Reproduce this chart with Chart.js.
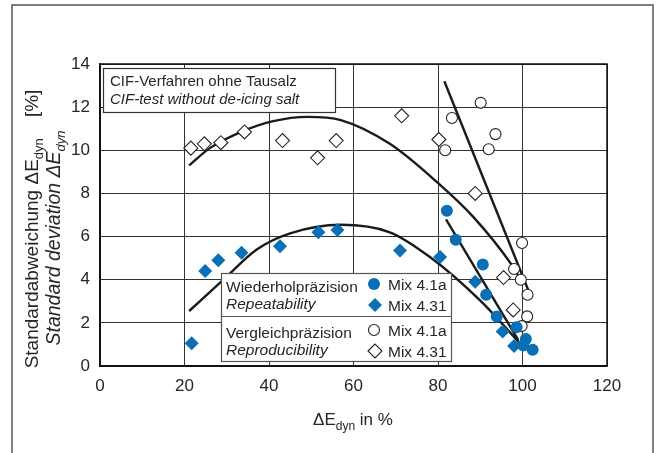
<!DOCTYPE html>
<html>
<head>
<meta charset="utf-8">
<script src="https://cdn.jsdelivr.net/npm/chart.js@4.4.1/dist/chart.umd.min.js"></script>
<style>
  html, body { margin: 0; padding: 0; background: #fff; }
  canvas { display: block; }
</style>
</head>
<body>
<canvas id="chart" width="658" height="453"></canvas>
<script>
// Wiederholpräzision / repeatability
const rep41aX = [82.1, 84.2, 90.6, 91.4, 93.9, 98.6, 100.8, 100.2, 102.4];
const rep41aY = [7.2, 5.85, 4.7, 3.3, 2.3, 1.8, 1.25, 0.95, 0.75];
const rep431X = [21.7, 24.9, 28.0, 33.5, 42.6, 51.7, 56.2, 71.0, 80.5, 88.8, 95.3, 98.0];
const rep431Y = [1.05, 4.4, 4.9, 5.25, 5.55, 6.2, 6.3, 5.35, 5.05, 3.9, 1.6, 0.93];

// Vergleichpräzision / reproducibility
const repro41aX = [81.7, 83.3, 90.1, 92.0, 93.6, 99.9, 98.0, 99.6, 101.2, 101.1, 99.8];
const repro41aY = [10.0, 11.5, 12.2, 10.05, 10.75, 5.7, 4.5, 4.0, 3.3, 2.3, 1.85];
const repro431X = [21.5, 24.7, 28.6, 34.2, 43.2, 51.5, 55.9, 71.4, 80.2, 88.8, 95.5, 97.8];
const repro431Y = [10.1, 10.3, 10.35, 10.85, 10.45, 9.65, 10.45, 11.6, 10.5, 8.0, 4.1, 2.6];

// trend curves
const fitRepro431X = [21.1, 26, 34, 41, 49, 57, 68.6, 79.9, 88.4, 97.4, 99.6];
const fitRepro431Y = [9.3, 10.1, 10.9, 11.35, 11.55, 11.4, 10.3, 8.5, 6.9, 4.7, 4.0];
const fitRepro41aX = [81.5, 101.4];
const fitRepro41aY = [13.2, 3.5];
const fitRep431X = [21.1, 29.2, 37.1, 45, 57, 68.6, 78.1, 89.9, 99.4];
const fitRep431Y = [2.55, 4.0, 5.4, 6.15, 6.55, 6.2, 5.05, 3.05, 1.05];
const fitRep41aX = [81.9, 99.0];
const fitRep41aY = [6.8, 1.2];

const xTicks = [0, 20, 40, 60, 80, 100, 120];
const yTicks = [0, 2, 4, 6, 8, 10, 12, 14];

const FONT = "'Liberation Sans', Arial, Helvetica, sans-serif";
const BLUE = '#0a6fb7';
const INK = '#262626';

function pts(xs, ys) {
  return xs.map((x, i) => ({ x: x, y: ys[i] }));
}

function fontOf(r, size) {
  return (r.it ? 'italic ' : '') + (r.sub ? Math.round(size * 0.68) : size) + 'px ' + FONT;
}

// draw a row of text runs, some of them subscript
function drawRuns(ctx, list, x, y, size, align) {
  let w = 0;
  list.forEach(r => { ctx.font = fontOf(r, size); w += ctx.measureText(r.t).width; });
  let cx = align === 'center' ? x - w / 2 : x;
  ctx.textAlign = 'left';
  ctx.textBaseline = 'alphabetic';
  list.forEach(r => {
    ctx.font = fontOf(r, size);
    ctx.fillText(r.t, cx, y + (r.sub ? size * 0.28 : 0));
    cx += ctx.measureText(r.t).width;
  });
}

function curve(xs, ys, smooth) {
  return {
    data: pts(xs, ys),
    showLine: true,
    borderColor: '#1b1b1b',
    borderWidth: 2.4,
    pointRadius: 0,
    cubicInterpolationMode: smooth ? 'monotone' : 'default',
    tension: 0,
    order: 10
  };
}

const framePlugin = {
  id: 'frame',
  beforeDraw(chart) {
    const ctx = chart.ctx;
    ctx.save();
    ctx.fillStyle = '#fff';
    ctx.fillRect(0, 0, chart.width, chart.height);
    ctx.strokeStyle = '#555';
    ctx.lineWidth = 1.5;
    ctx.beginPath();
    ctx.moveTo(12, 453);
    ctx.lineTo(12, 5);
    ctx.lineTo(653, 5);
    ctx.lineTo(653, 453);
    ctx.stroke();
    ctx.restore();
  },
  afterDatasetsDraw(chart) {
    const ctx = chart.ctx;
    const a = chart.chartArea;
    ctx.save();
    ctx.strokeStyle = '#111';
    ctx.lineWidth = 1.5;
    ctx.strokeRect(a.left, a.top, a.right - a.left, a.bottom - a.top);

    ctx.fillStyle = INK;
    // axis titles
    drawRuns(ctx, [{ t: 'ΔE' }, { t: 'dyn', sub: true }, { t: ' in %' }], 353, 425, 17, 'center');

    ctx.save();
    ctx.translate(38, 229);
    ctx.rotate(-Math.PI / 2);
    drawRuns(ctx, [{ t: 'Standardabweichung ΔE' }, { t: 'dyn', sub: true }, { t: '    [%]' }], 0, 0, 19, 'center');
    ctx.restore();
    ctx.save();
    ctx.translate(60, 238);
    ctx.rotate(-Math.PI / 2);
    drawRuns(ctx, [{ t: 'Standard deviation ΔE', it: true }, { t: 'dyn', sub: true, it: true }], 0, 0, 19.5, 'center');
    ctx.restore();

    // title box
    ctx.fillStyle = '#fff';
    ctx.fillRect(103, 68, 232, 44);
    ctx.strokeStyle = '#333';
    ctx.lineWidth = 1.2;
    ctx.strokeRect(103.5, 68.5, 232, 44);
    ctx.fillStyle = INK;
    drawRuns(ctx, [{ t: 'CIF-Verfahren ohne Tausalz' }], 110, 86, 15, 'left');
    drawRuns(ctx, [{ t: 'CIF-test without de-icing salt', it: true }], 110, 104, 15, 'left');

    // legend box
    ctx.fillStyle = '#fff';
    ctx.fillRect(221, 273, 230, 88);
    ctx.strokeStyle = '#555';
    ctx.strokeRect(221.5, 273.5, 230, 88);
    ctx.beginPath();
    ctx.moveTo(221.5, 316.5);
    ctx.lineTo(451.5, 316.5);
    ctx.stroke();

    ctx.fillStyle = INK;
    drawRuns(ctx, [{ t: 'Wiederholpräzision' }], 226, 292, 15.5, 'left');
    drawRuns(ctx, [{ t: 'Repeatability', it: true }], 226, 309, 15.5, 'left');
    drawRuns(ctx, [{ t: 'Vergleichpräzision' }], 226, 338, 15.5, 'left');
    drawRuns(ctx, [{ t: 'Reproducibility', it: true }], 226, 355, 15.5, 'left');
    drawRuns(ctx, [{ t: 'Mix 4.1a' }], 388, 290, 15.5, 'left');
    drawRuns(ctx, [{ t: 'Mix 4.31' }], 388, 311, 15.5, 'left');
    drawRuns(ctx, [{ t: 'Mix 4.1a' }], 388, 336, 15.5, 'left');
    drawRuns(ctx, [{ t: 'Mix 4.31' }], 388, 357, 15.5, 'left');

    const dp = Chart.helpers.drawPoint;
    ctx.fillStyle = BLUE;
    ctx.strokeStyle = BLUE;
    dp(ctx, { pointStyle: 'circle', radius: 6, rotation: 0, borderWidth: 0 }, 374, 284);
    dp(ctx, { pointStyle: 'rectRot', radius: 7, rotation: 0, borderWidth: 0 }, 375, 305);
    ctx.fillStyle = '#fff';
    ctx.strokeStyle = '#222';
    ctx.lineWidth = 1.1;
    dp(ctx, { pointStyle: 'circle', radius: 5.5, rotation: 0, borderWidth: 1.1 }, 374, 330);
    dp(ctx, { pointStyle: 'rectRot', radius: 7, rotation: 0, borderWidth: 1.1 }, 375, 351);
    ctx.restore();
  }
};

new Chart(document.getElementById('chart'), {
  type: 'scatter',
  data: {
    datasets: [
      curve(fitRepro431X, fitRepro431Y, true),
      curve(fitRepro41aX, fitRepro41aY, false),
      curve(fitRep431X, fitRep431Y, true),
      curve(fitRep41aX, fitRep41aY, false),
      {
        label: 'Vergleichpräzision Mix 4.31',
        data: pts(repro431X, repro431Y),
        pointStyle: 'rectRot', pointRadius: 7,
        backgroundColor: '#fff', borderColor: '#222', borderWidth: 1.1, order: 2
      },
      {
        label: 'Vergleichpräzision Mix 4.1a',
        data: pts(repro41aX, repro41aY),
        pointStyle: 'circle', pointRadius: 5.5,
        backgroundColor: '#fff', borderColor: '#222', borderWidth: 1.1, order: 2
      },
      {
        label: 'Wiederholpräzision Mix 4.31',
        data: pts(rep431X, rep431Y),
        pointStyle: 'rectRot', pointRadius: 7,
        backgroundColor: BLUE, borderColor: BLUE, borderWidth: 0, order: 1
      },
      {
        label: 'Wiederholpräzision Mix 4.1a',
        data: pts(rep41aX, rep41aY),
        pointStyle: 'circle', pointRadius: 6,
        backgroundColor: BLUE, borderColor: BLUE, borderWidth: 0, order: 0
      }
    ]
  },
  options: {
    responsive: false,
    animation: false,
    layout: { padding: { top: 64, right: 51, left: 0, bottom: 0 } },
    plugins: { legend: { display: false }, tooltip: { enabled: false } },
    scales: {
      x: {
        type: 'linear',
        min: 0, max: 120,
        afterBuildTicks: s => { s.ticks = xTicks.map(v => ({ value: v })); },
        afterFit: s => { s.height = 87; },
        grid: { color: '#333', lineWidth: 1, drawTicks: false },
        border: { color: '#111', width: 1.5 },
        ticks: { padding: 10, color: INK, font: { family: FONT, size: 17 } }
      },
      y: {
        type: 'linear',
        min: 0, max: 14,
        afterBuildTicks: s => { s.ticks = yTicks.map(v => ({ value: v })); },
        afterFit: s => { s.width = 100; },
        grid: { color: '#333', lineWidth: 1, drawTicks: false },
        border: { color: '#111', width: 1.5 },
        ticks: { padding: 10, color: INK, font: { family: FONT, size: 17 } }
      }
    }
  },
  plugins: [framePlugin]
});
</script>
</body>
</html>
